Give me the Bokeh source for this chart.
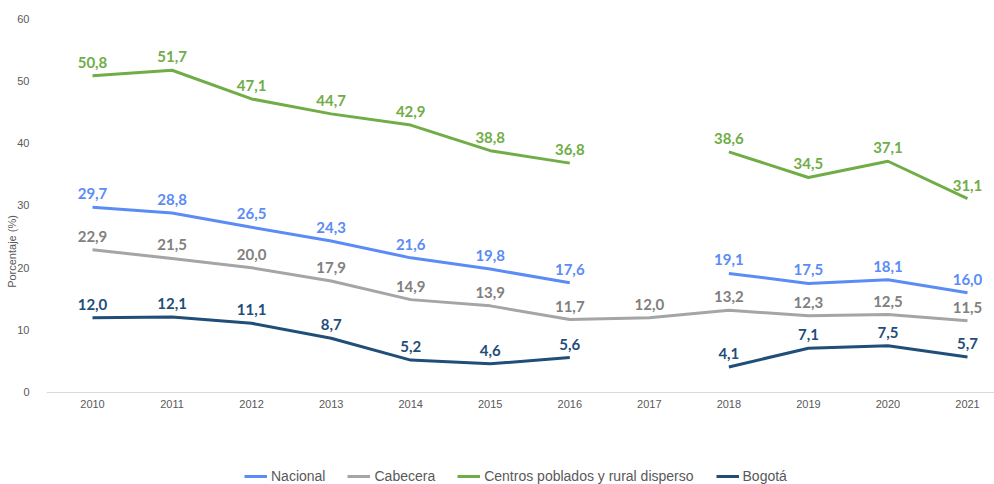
import math
from bokeh.plotting import figure
from bokeh.models import Range1d, FixedTicker, Legend, LegendItem, ColumnDataSource
from bokeh.core.properties import value
from bokeh.embed import file_html
from bokeh.resources import INLINE

NAN = float("nan")
years = [2010, 2011, 2012, 2013, 2014, 2015, 2016, 2017, 2018, 2019, 2020, 2021]
nacional = [29.7, 28.8, 26.5, 24.3, 21.6, 19.8, 17.6, NAN, 19.1, 17.5, 18.1, 16.0]
cabecera = [22.9, 21.5, 20.0, 17.9, 14.9, 13.9, 11.7, 12.0, 13.2, 12.3, 12.5, 11.5]
centros = [50.8, 51.7, 47.1, 44.7, 42.9, 38.8, 36.8, NAN, 38.6, 34.5, 37.1, 31.1]
bogota = [12.0, 12.1, 11.1, 8.7, 5.2, 4.6, 5.6, NAN, 4.1, 7.1, 7.5, 5.7]
y_ticks = [0, 10, 20, 30, 40, 50, 60]

series = [
    ("Nacional", nacional, "#5B8CF6", "#5B8CF6"),
    ("Cabecera", cabecera, "#A5A5A5", "#808080"),
    ("Centros poblados y rural disperso", centros, "#70AD47", "#70AD47"),
    ("Bogotá", bogota, "#1F4E79", "#1F4E79"),
]

p = figure(width=994, height=484, output_backend="svg", toolbar_location=None,
           x_range=Range1d(2009.4217, 2021.3394), y_range=Range1d(-14.76, 60),
           min_border_left=46, min_border_right=0, min_border_top=18, min_border_bottom=0)
p.outline_line_color = None
p.grid.visible = False
p.background_fill_color = "white"

p.xaxis.ticker = FixedTicker(ticks=years)
p.yaxis.ticker = FixedTicker(ticks=y_ticks)
for ax in (p.xaxis[0], p.yaxis[0]):
    ax.major_tick_line_color = None
    ax.minor_tick_line_color = None
    ax.major_label_text_font = "Liberation Sans"
    ax.major_label_text_font_size = "11px"
    ax.major_label_text_color = "#595959"
p.xaxis.fixed_location = 0
p.xaxis.axis_line_color = "#D9D9D9"
p.xaxis.major_label_standoff = 2
p.yaxis.axis_line_color = None
p.yaxis.major_label_standoff = 11
p.yaxis.axis_label = "Porcentaje (%)"
p.yaxis.axis_label_text_font = "Liberation Sans"
p.yaxis.axis_label_text_font_size = "11px"
p.yaxis.axis_label_text_font_style = "normal"
p.yaxis.axis_label_text_color = "#595959"
p.yaxis.axis_label_standoff = -4

items = []
for name, vals, lc, tc in series:
    src = ColumnDataSource(dict(x=years, y=vals))
    r = p.line("x", "y", source=src, line_color=lc, line_width=3)
    items.append(LegendItem(label=name, renderers=[r]))
    lab = [i for i, v in enumerate(vals) if not math.isnan(v)]
    lsrc = ColumnDataSource(dict(x=[years[i] for i in lab], y=[vals[i] for i in lab],
                                 t=[f"{vals[i]:.1f}".replace(".", ",") for i in lab]))
    p.text("x", "y", text="t", source=lsrc, text_align="center", text_baseline="bottom",
           y_offset=-8, text_color=tc, text_font=value("Lato"), text_font_style="bold",
           text_font_size="15px")

legend = Legend(items=items, orientation="horizontal", location=(198, 0),
                glyph_width=23, glyph_height=14, label_height=14, label_standoff=4,
                spacing=22, padding=0, margin=0, border_line_color=None,
                background_fill_alpha=0, label_text_font="Liberation Sans",
                label_text_font_size="14px", label_text_color="#595959")
p.add_layout(legend, "center")

open("out.html", "w").write(file_html(p, INLINE))
